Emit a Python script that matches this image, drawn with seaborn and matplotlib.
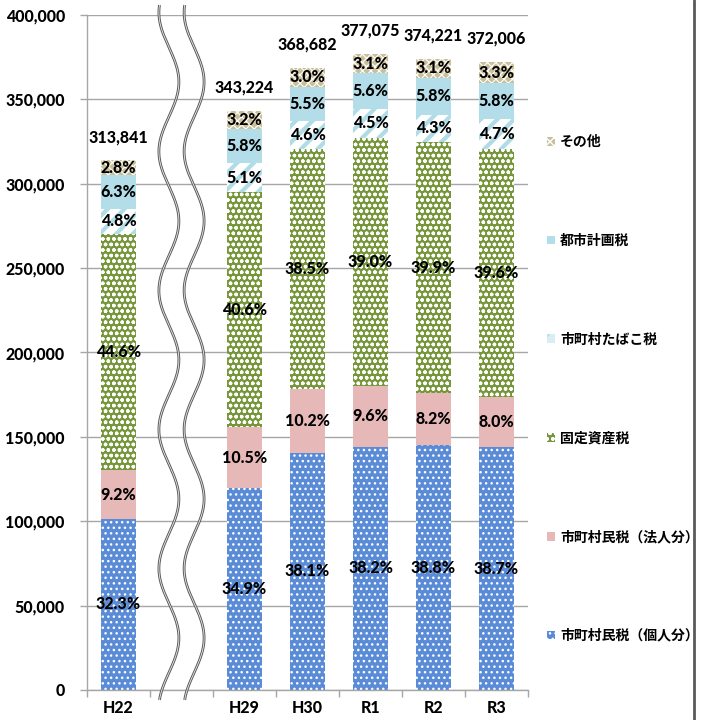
import numpy as np
import pandas as pd
import matplotlib
matplotlib.use("Agg")
import matplotlib.pyplot as plt
import seaborn as sns
from matplotlib.lines import Line2D
from matplotlib.patches import Patch
from matplotlib.ticker import FuncFormatter, FixedLocator
from matplotlib.transforms import offset_copy

# ---- data -------------------------------------------------------------
years = ["H22", "H29", "H30", "R1", "R2", "R3"]
slots = ["H22", " ", "H29", "H30", "R1", "R2", "R3"]   # blank slot = axis break
totals = [313841, 343224, 368682, 377075, 374221, 372006]

series = ["市町村民税（個人分）", "市町村民税（法人分）", "固定資産税",
          "市町村たばこ税", "都市計画税", "その他"]
pct_kojin = [32.3, 34.9, 38.1, 38.2, 38.8, 38.7]
pct_hojin = [9.2, 10.5, 10.2, 9.6, 8.2, 8.0]
pct_kotei = [44.6, 40.6, 38.5, 39.0, 39.9, 39.6]
pct_tabako = [4.8, 5.1, 4.6, 4.5, 4.3, 4.7]
pct_toshi = [6.3, 5.8, 5.5, 5.6, 5.8, 5.8]
pct_sonota = [2.8, 3.2, 3.0, 3.1, 3.1, 3.3]
y_ticks = [0, 50000, 100000, 150000, 200000, 250000, 300000, 350000, 400000]

pcts = np.array([pct_kojin, pct_hojin, pct_kotei, pct_tabako, pct_toshi, pct_sonota])
tot = np.array(totals, dtype=float)
# segment amounts: each share of the year's total
segs = pcts / pcts.sum(axis=0) * tot
cum = np.cumsum(segs, axis=0)

# ---- styles -----------------------------------------------------------
styles = [
    dict(face="#5A8BD6", hatch="...", hcol="white", hlw=1.0),     # 個人分
    dict(face="#E6B9B8", hatch=None, hcol="#E6B9B8", hlw=1.0),    # 法人分
    dict(face="#76963A", hatch="ooo", hcol="white", hlw=1.0),     # 固定資産税
    dict(face="white", hatch="//", hcol="#B0DCE8", hlw=3.0),      # たばこ税
    dict(face="#B3DDE8", hatch=None, hcol="#B3DDE8", hlw=1.0),    # 都市計画税
    dict(face="#C9C09A", hatch="xxxx", hcol="white", hlw=0.8),    # その他
]

sns.set_theme(style="white")
JP = ["Noto Sans CJK JP", "DejaVu Sans"]
NUM = ["Lato", "DejaVu Sans"]
WEIGHT = "black"
plt.rcParams["font.family"] = JP
plt.rcParams["font.weight"] = "bold"

fig = plt.figure(figsize=(7.04, 7.2), dpi=100)
ax = fig.add_axes([87 / 704, 30 / 720, 441 / 704, 675 / 720])

BAR_W = 0.57


def style_patch(p, st):
    p.set_linewidth(0)
    if st["hatch"]:
        p.set_hatch(st["hatch"])
        p.set_edgecolor(st["hcol"])
        if hasattr(p, "set_hatch_linewidth"):
            p.set_hatch_linewidth(st["hlw"])


# stacked bars: draw cumulative heights from the top series down
for i in range(len(series) - 1, -1, -1):
    df = pd.DataFrame({"year": years, "value": cum[i]})
    n_before = len(ax.patches)
    plt.rcParams["hatch.linewidth"] = styles[i]["hlw"]
    sns.barplot(data=df, x="year", y="value", order=slots, color=styles[i]["face"],
                saturation=1, width=BAR_W, errorbar=None, ax=ax, zorder=2)
    for p in ax.patches[n_before:]:
        style_patch(p, styles[i])

ax.set_xlim(-0.5, 6.5)
ax.set_ylim(0, 400000)
ax.set_xlabel("")
ax.set_ylabel("")

# percentage labels inside segments
xpos = [slots.index(y) for y in years]
for i in range(len(series)):
    for j, x in enumerate(xpos):
        yc = cum[i][j] - segs[i][j] / 2
        ax.text(x, yc, f"{pcts[i][j]:.1f}%", ha="center", va="center",
                fontsize=11.5, fontweight=WEIGHT, color="black", zorder=4, family=NUM)

# totals above bars
above = offset_copy(ax.transData, fig=fig, x=0, y=11, units="points")
for j, x in enumerate(xpos):
    ax.text(x, cum[-1][j], f"{totals[j]:,}", transform=above, ha="center",
            va="bottom", fontsize=11.5, fontweight=WEIGHT, family=NUM,
            color="black", zorder=4)

# axes styling
ax.yaxis.set_major_locator(FixedLocator(y_ticks))
ax.yaxis.set_major_formatter(FuncFormatter(lambda v, p: f"{int(v):,}"))
ax.grid(axis="y", color="#A6A6A6", linewidth=1, zorder=0)
ax.grid(axis="x", visible=False)
ax.set_axisbelow(True)
for s in ["top", "right"]:
    ax.spines[s].set_visible(False)
for s in ["left", "bottom"]:
    ax.spines[s].set_color("#A6A6A6")
    ax.spines[s].set_linewidth(1)
ax.tick_params(axis="y", which="major", length=5, width=1, color="#A6A6A6",
               direction="out", left=True, pad=11, labelsize=11.5, labelcolor="black")
ax.tick_params(axis="x", which="major", length=0, pad=7, labelsize=11.5,
               labelcolor="black")
ax.xaxis.set_minor_locator(FixedLocator(np.arange(-0.5, 7, 1.0)))
ax.tick_params(axis="x", which="minor", length=5, width=1, color="#A6A6A6",
               direction="out", bottom=True)
for lab in ax.get_xticklabels() + ax.get_yticklabels():
    lab.set_fontweight(WEIGHT)
    lab.set_family(NUM)

# wavy break marks in the blank slot
px_per_unit = 675 / 400000
yy = np.linspace(-5900, 405900, 800)
period = 139 / px_per_unit
y0 = (690 - 82) / px_per_unit
amp = 10 / 63
for c in (1 - 0.2, 1 + 0.2):
    xx = c + amp * np.cos(2 * np.pi * (yy - y0) / period)
    ax.plot(xx, yy, color="#5A5A5A", lw=2.0, clip_on=False, zorder=6,
            solid_capstyle="butt")
    ax.plot(xx, yy, color="#EDEDED", lw=0.6, clip_on=False, zorder=7,
            solid_capstyle="butt")

# legend, top entry = その他
handles = []
for i in range(len(series) - 1, -1, -1):
    st = styles[i]
    face = st["face"] if i != 3 else "#D8EEF4"
    h = Patch(facecolor=face, edgecolor=st["hcol"] if st["hatch"] else st["face"],
              hatch=st["hatch"], linewidth=0, label=series[i])
    if st["hatch"] and hasattr(h, "set_hatch_linewidth"):
        h.set_hatch_linewidth(st["hlw"])
    handles.append(h)
leg = fig.legend(handles=handles, loc="center left",
                 bbox_to_anchor=(547 / 704, 1 - 389 / 720), frameon=False,
                 prop=dict(family=JP, weight="bold", size=10),
                 handlelength=0.6, handleheight=0.6, handletextpad=0.35,
                 labelspacing=6.1, borderpad=0, borderaxespad=0)
for t in leg.get_texts():
    t.set_color("black")

# right edge border
fig.add_artist(Line2D([694 / 704, 694 / 704], [0, 1], transform=fig.transFigure,
                      color="#595959", lw=2))

fig.savefig("out.png", dpi=100)
